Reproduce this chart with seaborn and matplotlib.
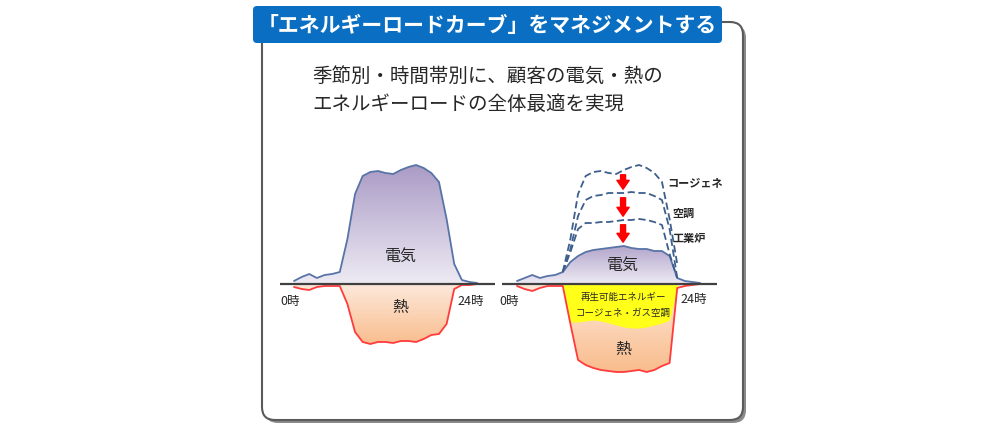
import numpy as np
import matplotlib
matplotlib.use('Agg')
import matplotlib.pyplot as plt
import seaborn as sns
from matplotlib.patches import FancyBboxPatch, PathPatch
from matplotlib.colors import LinearSegmentedColormap

sns.set_theme(style='white')
plt.rcParams['font.family'] = ['Noto Sans CJK JP', 'DejaVu Sans']

# データ (時刻 0-24時, 負荷は任意単位)
horas = list(range(25))
elec_antes = [3, 7, 10, 6, 9, 10, 12, 45, 90, 108, 112, 113, 111, 110, 114,
              117, 119, 116, 111, 102, 65, 20, 4, 2, 1]
calor_antes = [3, 5, 6, 3, 2, 2, 2, 20, 48, 58, 60, 58, 58, 59, 57,
               57, 58, 55, 51, 50, 40, 5, 1, 1, 0]
elec_despues = [3, 6, 9, 6, 8, 9, 12, 22, 28, 32, 34, 35, 36, 37, 38,
                36, 35, 35, 33, 33, 28, 6, 3, 2, 1]
calor_despues = [2, 5, 7, 4, 2, 2, 2, 40, 76, 81, 84, 86, 87, 88, 88,
                 87, 86, 88, 86, 82, 79, 4, 2, 1, 0]
horas_cambio = list(range(6, 22))
curva_cogen = elec_antes[6:22]
curva_aire = [12, 35, 68, 84, 88, 89, 91, 91, 91, 92, 91, 91, 88, 84, 55, 6]
curva_horno = [12, 32, 55, 61, 61, 62, 62, 63, 64, 64, 65, 64, 62, 59, 30, 6]
renovable = [30, 38, 38, 37, 36, 37, 39, 41, 43, 44, 44, 43, 41, 39, 36, 30]

W, H = 997, 425
PPH = 7.63      # px por hora
BASE_Y = 284

fig = plt.figure(figsize=(W / 100, H / 100), dpi=100)
bg = fig.add_axes([0, 0, 1, 1])
bg.set_xlim(0, W)
bg.set_ylim(H, 0)
bg.axis('off')

# marco con sombra
bg.add_patch(FancyBboxPatch((265, 25), 481, 398, boxstyle='round,pad=0,rounding_size=13',
                            fc='#8a8a8a', ec='none', zorder=1))
bg.add_patch(FancyBboxPatch((262, 22), 481, 398, boxstyle='round,pad=0,rounding_size=13',
                            fc='white', ec='#5a5a5a', lw=1.5, zorder=2))
bg.add_patch(FancyBboxPatch((253, 6), 469, 37, boxstyle='round,pad=0,rounding_size=4',
                            fc='#0A6FC2', ec='none', zorder=3))
bg.text(487, 25, '「エネルギーロードカーブ」をマネジメントする', color='white',
        fontsize=15, fontweight='bold', ha='center', va='center', zorder=4)
bg.text(312, 76, '季節別・時間帯別に、顧客の電気・熱の', fontsize=14, ha='left', va='center', zorder=4)
bg.text(312, 104, 'エネルギーロードの全体最適を実現', fontsize=14, ha='left', va='center', zorder=4)


def crear_ejes(x0, x1, cero):
    y0, y1 = 150, 380
    ax = fig.add_axes([x0 / W, 1 - y1 / H, (x1 - x0) / W, (y1 - y0) / H])
    ax.patch.set_alpha(0)
    ax.axis('off')
    lims = ((x0 - cero) / PPH, (x1 - cero) / PPH), (-(y1 - BASE_Y), BASE_Y - y0)
    return ax, lims


def relleno_gradiente(ax, x, y, c_cerca, c_lejos):
    poly = ax.fill_between(x, 0, y, color='none', lw=0)
    cmap = LinearSegmentedColormap.from_list('g', [c_cerca, c_lejos])
    grad = np.linspace(0, 1, 256).reshape(-1, 1)
    if max(y) > 0:
        ext, org = (min(x), max(x), 0, max(y)), 'lower'
    else:
        ext, org = (min(x), max(x), min(y), 0), 'upper'
    im = ax.imshow(grad, extent=ext, origin=org, cmap=cmap, aspect='auto', zorder=1)
    patch = PathPatch(poly.get_paths()[0], transform=ax.transData, fc='none', ec='none')
    ax.add_patch(patch)
    im.set_clip_path(patch)


AZUL = '#5874A6'
ROJO = '#FF3B3B'

# ---- izquierda: antes ----
ax1, (xl, yl) = crear_ejes(280, 495, 294)
neg_antes = [-v for v in calor_antes]
relleno_gradiente(ax1, horas, elec_antes, '#EEEBF4', '#AA9BC5')
relleno_gradiente(ax1, horas, neg_antes, '#FDE9DB', '#F9BD8E')
sns.lineplot(x=horas, y=elec_antes, ax=ax1, color=AZUL, lw=1.3, zorder=3)
sns.lineplot(x=horas, y=neg_antes, ax=ax1, color=ROJO, lw=1.3, zorder=3)
ax1.axhline(0, color='#404040', lw=1.6, zorder=4)
ax1.text(14.0, 28, '電気', fontsize=11.5, ha='center', va='center')
ax1.text(13.9, -24, '熱', fontsize=11.5, ha='center', va='center')
ax1.text(-0.5, -18, '0時', fontsize=9, ha='center', va='center')
ax1.text(23.1, -17, '24時', fontsize=9, ha='center', va='center')
ax1.set_xlim(*xl)
ax1.set_ylim(*yl)

# ---- derecha: después ----
ax2, (xl, yl) = crear_ejes(502, 717, 517)
neg_despues = [-v for v in calor_despues]
relleno_gradiente(ax2, horas, elec_despues, '#EEEBF4', '#B3A6CC')
relleno_gradiente(ax2, horas, neg_despues, '#FDE9DB', '#F9BC8C')
calor_sub = [calor_despues[h] for h in horas_cambio]
ax2.fill_between(horas_cambio, 0, [-min(a, b) for a, b in zip(renovable, calor_sub)],
                 color='#FFFF1A', lw=0, zorder=2)
sns.lineplot(x=horas, y=elec_despues, ax=ax2, color=AZUL, lw=1.3, zorder=3)
sns.lineplot(x=horas, y=neg_despues, ax=ax2, color=ROJO, lw=1.3, zorder=3)
for curva in (curva_cogen, curva_aire, curva_horno):
    sns.lineplot(x=horas_cambio, y=curva, ax=ax2, color='#3E5F8C', lw=1.3,
                 linestyle=(0, (4, 2)), zorder=3)
ax2.axhline(0, color='#404040', lw=1.6, zorder=4)

# flechas rojas hacia abajo (hora 14)
h = 14
pares = [(curva_cogen[h - 6], curva_aire[h - 6]), (curva_aire[h - 6], curva_horno[h - 6]),
         (curva_horno[h - 6], elec_despues[h])]
for arriba, abajo in pares:
    ax2.annotate('', xy=(h - 0.1, abajo + 1), xytext=(h - 0.1, arriba - 2),
                 arrowprops=dict(arrowstyle='simple,head_length=0.8,head_width=1.1,tail_width=0.45',
                                 mutation_scale=8, fc='#FF0000', ec='#FF0000'), zorder=5)

ax2.text(19.7, 101, 'コージェネ', fontsize=8, fontweight='bold', ha='left', va='center')
ax2.text(20.4, 71, '空調', fontsize=8, fontweight='bold', ha='left', va='center')
ax2.text(20.4, 46, '工業炉', fontsize=8, fontweight='bold', ha='left', va='center')
ax2.text(13.8, 19, '電気', fontsize=11.5, ha='center', va='center', zorder=5)
ax2.text(13.9, -66, '熱', fontsize=11.5, ha='center', va='center', zorder=5)
ax2.text(13.9, -13, '再生可能エネルギー', fontsize=6.8, ha='center', va='center', zorder=5)
ax2.text(13.9, -29, 'コージェネ・ガス空調', fontsize=6.8, ha='center', va='center', zorder=5)
ax2.text(-1.0, -17, '0時', fontsize=9, ha='center', va='center')
ax2.text(23.1, -16, '24時', fontsize=9, ha='center', va='center')
ax2.set_xlim(*xl)
ax2.set_ylim(*yl)

fig.savefig('out.png', dpi=100)
